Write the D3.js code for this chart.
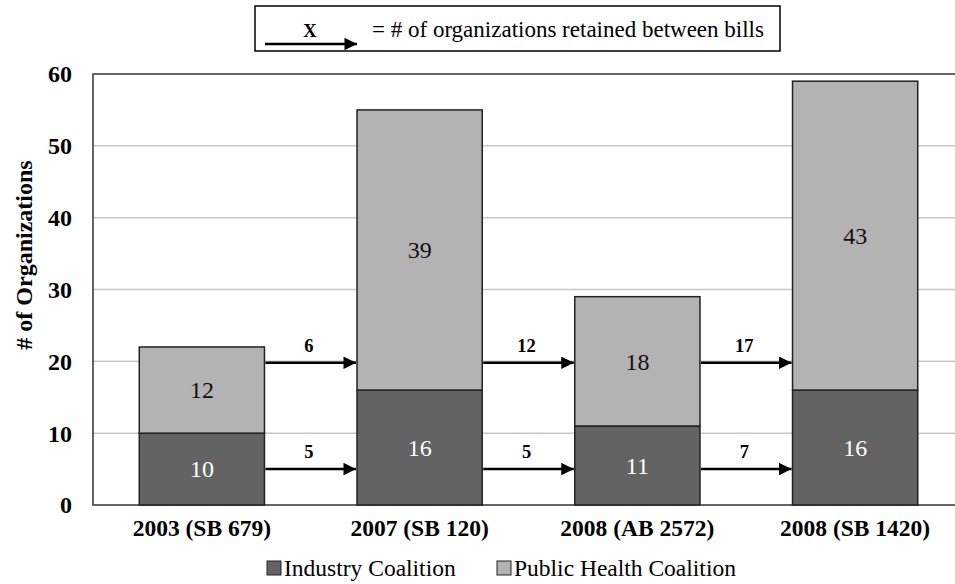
<!DOCTYPE html>
<html>
<head>
<meta charset="utf-8">
<script src="https://cdn.jsdelivr.net/npm/d3@7"></script>
<style>
  body { margin: 0; background: #fff; }
</style>
</head>
<body>
<div id="chart"></div>
<script>
var width = 955;
var height = 584;

// data
var bills = ["2003 (SB 679)", "2007 (SB 120)", "2008 (AB 2572)", "2008 (SB 1420)"];
var industry = [10, 16, 11, 16];
var publicHealth = [12, 39, 18, 43];
var retainedPublic = [6, 12, 17];
var retainedIndustry = [5, 5, 7];
var yTicks = [0, 10, 20, 30, 40, 50, 60];

var margin = {left: 93, top: 74, bottom: 505};
var serif = "'Liberation Serif', 'Times New Roman', serif";

var svg = d3.select("#chart")
  .append("svg")
  .attr("width", width)
  .attr("height", height)
  .style("font-family", serif);

var x = d3.scaleBand()
  .domain(bills)
  .range([93, 964])
  .paddingInner(0.425)
  .paddingOuter(0.2125);

var y = d3.scaleLinear()
  .domain([0, 60])
  .range([margin.bottom, margin.top]);

// gridlines
svg.append("g")
  .selectAll("line")
  .data(yTicks.filter(d => d > 0 && d < 60))
  .join("line")
    .attr("x1", margin.left)
    .attr("x2", width)
    .attr("y1", d => y(d))
    .attr("y2", d => y(d))
    .style("stroke", "#c8c8c8")
    .style("stroke-width", 1.5);

// frame
svg.append("path")
  .attr("d", "M" + width + "," + y(60) + "H" + margin.left + "V" + y(0) + "H" + width)
  .style("fill", "none")
  .style("stroke", "#333")
  .style("stroke-width", 1.5);

// y tick labels
svg.append("g")
  .selectAll("text")
  .data(yTicks)
  .join("text")
    .attr("x", 72)
    .attr("y", d => y(d))
    .attr("dy", "0.35em")
    .attr("text-anchor", "end")
    .style("font-size", "24px")
    .style("font-weight", "bold")
    .text(d => d);

svg.append("text")
  .attr("transform", "translate(24,255) rotate(-90)")
  .attr("text-anchor", "middle")
  .attr("dy", "0.35em")
  .style("font-size", "24px")
  .style("font-weight", "bold")
  .text("# of Organizations");

// stacked bars
var stacks = bills.map((b, i) => ({bill: b, ind: industry[i], pub: publicHealth[i]}));

var bars = svg.append("g").selectAll("g")
  .data(stacks)
  .join("g");

bars.append("rect")
  .attr("x", d => x(d.bill))
  .attr("width", x.bandwidth())
  .attr("y", d => y(d.ind))
  .attr("height", d => y(0) - y(d.ind))
  .style("fill", "#636363")
  .style("stroke", "#222")
  .style("stroke-width", 1.5);

bars.append("rect")
  .attr("x", d => x(d.bill))
  .attr("width", x.bandwidth())
  .attr("y", d => y(d.ind + d.pub))
  .attr("height", d => y(d.ind) - y(d.ind + d.pub))
  .style("fill", "#b3b3b3")
  .style("stroke", "#222")
  .style("stroke-width", 1.5);

bars.append("text")
  .attr("x", d => x(d.bill) + x.bandwidth() / 2)
  .attr("y", d => y(d.ind / 2))
  .attr("dy", "0.35em")
  .attr("text-anchor", "middle")
  .style("font-size", "24px")
  .style("fill", "#fff")
  .text(d => d.ind);

bars.append("text")
  .attr("x", d => x(d.bill) + x.bandwidth() / 2)
  .attr("y", d => y(d.ind + d.pub / 2))
  .attr("dy", "0.35em")
  .attr("text-anchor", "middle")
  .style("font-size", "24px")
  .style("fill", "#111")
  .text(d => d.pub);

// x labels
svg.append("g")
  .selectAll("text")
  .data(bills)
  .join("text")
    .attr("x", d => x(d) + x.bandwidth() / 2)
    .attr("y", 528)
    .attr("dy", "0.35em")
    .attr("text-anchor", "middle")
    .style("font-size", "23.5px")
    .style("font-weight", "bold")
    .text(d => d);

// arrow marker
svg.append("defs").append("marker")
  .attr("id", "head")
  .attr("viewBox", "0 0 10 10")
  .attr("refX", 10)
  .attr("refY", 5)
  .attr("markerWidth", 5.5)
  .attr("markerHeight", 5)
  .attr("markerUnits", "strokeWidth")
  .attr("orient", "auto")
  .append("path")
    .attr("d", "M0,0L10,5L0,10Z")
    .style("fill", "#000");

// retention arrows between bills
function drawArrows(vals, level) {
  var g = svg.append("g");
  vals.forEach(function(v, i) {
    var x0 = x(bills[i]) + x.bandwidth() + 1;
    var x1 = x(bills[i + 1]) - 1;
    var yy = y(level);
    g.append("line")
      .attr("x1", x0).attr("x2", x1)
      .attr("y1", yy).attr("y2", yy)
      .style("stroke", "#000")
      .style("stroke-width", 2.5)
      .attr("marker-end", "url(#head)");
    g.append("text")
      .attr("x", (x0 + x1) / 2 - 2)
      .attr("y", yy - 11)
      .attr("text-anchor", "middle")
      .style("font-size", "18.5px")
      .style("font-weight", "bold")
      .text(v);
  });
}
drawArrows(retainedPublic, 19.8);
drawArrows(retainedIndustry, 5);

// key box at top
var key = svg.append("g");
key.append("rect")
  .attr("x", 255).attr("y", 6)
  .attr("width", 525).attr("height", 45)
  .style("fill", "#fff")
  .style("stroke", "#000")
  .style("stroke-width", 1.5);
key.append("line")
  .attr("x1", 265).attr("x2", 357)
  .attr("y1", 44).attr("y2", 44)
  .style("stroke", "#000")
  .style("stroke-width", 2.5)
  .attr("marker-end", "url(#head)");
key.append("text")
  .attr("x", 310).attr("y", 37)
  .attr("text-anchor", "middle")
  .style("font-size", "18.5px")
  .style("font-weight", "bold")
  .text("X");
key.append("text")
  .attr("x", 372).attr("y", 37)
  .style("font-size", "23px")
  .text("= # of organizations retained between bills");

// legend
var legendItems = [
  {name: "Industry Coalition", color: "#636363", x: 267},
  {name: "Public Health Coalition", color: "#b3b3b3", x: 497}
];
var lg = svg.append("g").selectAll("g")
  .data(legendItems)
  .join("g")
    .attr("transform", d => "translate(" + d.x + ",568)");
lg.append("rect")
  .attr("x", 0).attr("y", -7)
  .attr("width", 14).attr("height", 14)
  .style("fill", d => d.color)
  .style("stroke", "#222")
  .style("stroke-width", 1);
lg.append("text")
  .attr("x", 17)
  .attr("y", 0)
  .attr("dy", "0.35em")
  .style("font-size", "23.5px")
  .text(d => d.name);
</script>
</body>
</html>
